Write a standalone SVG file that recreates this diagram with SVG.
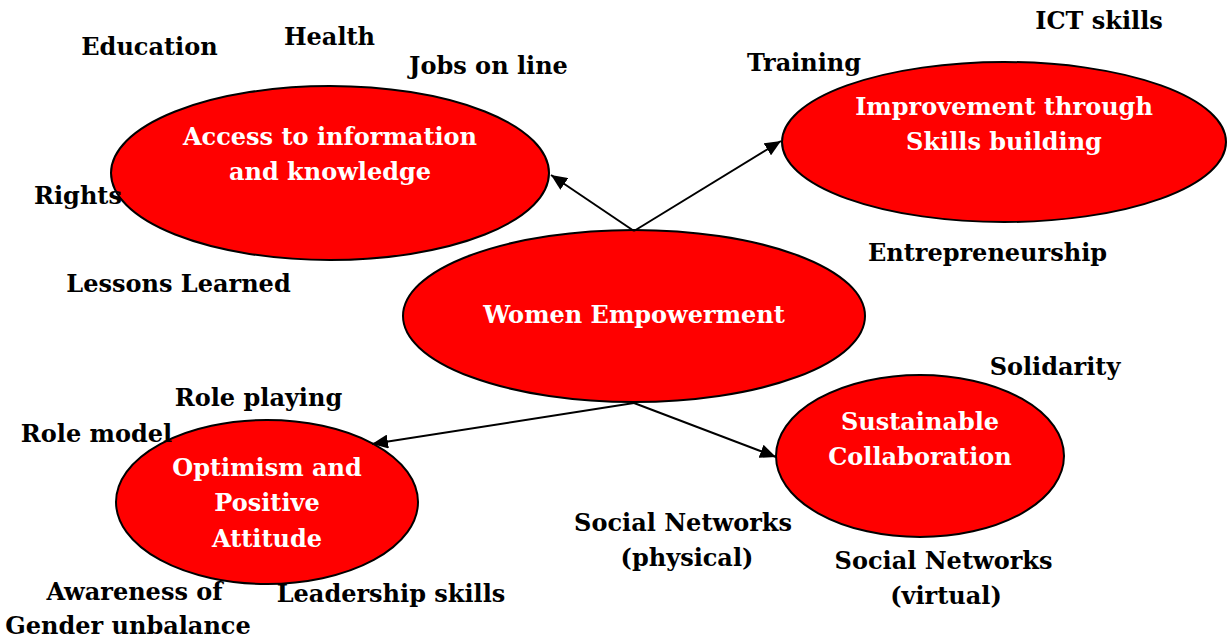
<svg xmlns="http://www.w3.org/2000/svg" width="1228" height="638" viewBox="0 0 1228 638">
<defs>
<style>
.node{fill:#ff0000;stroke:#000;stroke-width:2}
.in{font-family:"DejaVu Serif","Liberation Serif",serif;font-weight:bold;font-size:24px;fill:#fff;text-anchor:middle}
.lb{font-family:"DejaVu Serif","Liberation Serif",serif;font-weight:bold;font-size:24px;fill:#000;text-anchor:middle}
.edge{stroke:#000;stroke-width:2;fill:none;marker-end:url(#ah)}
</style>
<marker id="ah" viewBox="0 0 16 14" refX="16" refY="7" markerWidth="16" markerHeight="14" markerUnits="userSpaceOnUse" orient="auto">
<path d="M0,0 L16,7 L0,14 z" fill="#000"/>
</marker>
</defs>
<rect width="1228" height="638" fill="#fff"/>
<g id="n-access">
<ellipse class="node" cx="330" cy="173" rx="219" ry="87"/>
<text class="in" x="330" y="145">Access to information</text>
<text class="in" x="330" y="180">and knowledge</text>
</g>
<g id="n-skills">
<ellipse class="node" cx="1004" cy="142" rx="222" ry="80"/>
<text class="in" x="1004" y="115">Improvement through</text>
<text class="in" x="1004" y="150">Skills building</text>
</g>
<g id="n-women">
<ellipse class="node" cx="634" cy="316" rx="231" ry="86"/>
<text class="in" x="634" y="323">Women Empowerment</text>
</g>
<g id="n-optimism">
<ellipse class="node" cx="267" cy="502" rx="151" ry="82"/>
<text class="in" x="267" y="476">Optimism and</text>
<text class="in" x="267" y="511">Positive</text>
<text class="in" x="267" y="547">Attitude</text>
</g>
<g id="n-collab">
<ellipse class="node" cx="920" cy="456" rx="144" ry="81"/>
<text class="in" x="920" y="430">Sustainable</text>
<text class="in" x="920" y="465">Collaboration</text>
</g>
<g id="connectors">
<line class="edge" x1="634" y1="231" x2="551" y2="175"/>
<line class="edge" x1="634" y1="231" x2="781" y2="141"/>
<line class="edge" x1="634" y1="403" x2="372" y2="444"/>
<line class="edge" x1="634" y1="403" x2="776" y2="457"/>
</g>
<g id="labels">
<text class="lb" x="149.5" y="55">Education</text>
<text class="lb" x="329.5" y="45">Health</text>
<text class="lb" x="488.5" y="74">Jobs on line</text>
<text class="lb" x="78" y="204">Rights</text>
<text class="lb" x="178.5" y="292">Lessons Learned</text>
<text class="lb" x="804" y="71">Training</text>
<text class="lb" x="1099" y="29">ICT skills</text>
<text class="lb" x="987.5" y="261">Entrepreneurship</text>
<text class="lb" x="1055" y="375">Solidarity</text>
<text class="lb" x="258.5" y="406">Role playing</text>
<text class="lb" x="96.5" y="442">Role model</text>
<text class="lb" x="683" y="531">Social Networks</text>
<text class="lb" x="687" y="566">(physical)</text>
<text class="lb" x="943.5" y="569">Social Networks</text>
<text class="lb" x="946" y="604">(virtual)</text>
<text class="lb" x="134.5" y="600">Awareness of</text>
<text class="lb" x="128" y="634">Gender unbalance</text>
<text class="lb" x="391" y="602">Leadership skills</text>
</g>
</svg>
